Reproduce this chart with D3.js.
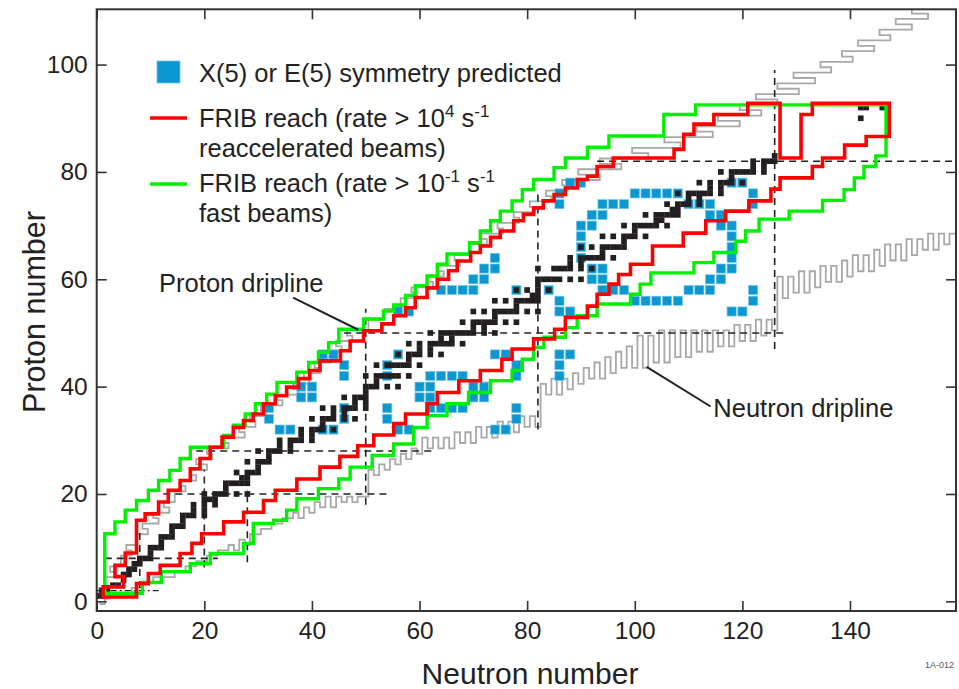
<!DOCTYPE html>
<html><head><meta charset="utf-8">
<script src="https://cdn.jsdelivr.net/npm/d3@7"></script>
<style>
body{margin:0;background:#fff;}
svg{display:block;font-family:"Liberation Sans",Arial,Helvetica,sans-serif;}
</style>
</head><body>
<svg id="chart" width="959" height="689"></svg>
<script>
// ---------------- DATA ----------------
const xTicks = [0,20,40,60,80,100,120,140];
const yTicks = [0,20,40,60,80,100];

// stable / primordial nuclides: [Z, [N...]]
const stableNuclei = [
[1,[0,1]],[2,[1,2]],[3,[3,4]],[4,[5]],[5,[5,6]],[6,[6,7]],[7,[7,8]],[8,[8,9,10]],[9,[10]],[10,[10,11,12]],
[11,[12]],[12,[12,13,14]],[13,[14]],[14,[14,15,16]],[15,[16]],[16,[16,17,18,20]],[17,[18,20]],[18,[18,20,22]],
[19,[20,21,22]],[20,[20,22,23,24,26,28]],[21,[24]],[22,[24,25,26,27,28]],[23,[27,28]],[24,[26,28,29,30]],
[25,[30]],[26,[28,30,31,32]],[27,[32]],[28,[30,32,33,34,36]],[29,[34,36]],[30,[34,36,37,38,40]],[31,[38,40]],
[32,[38,40,41,42,44]],[33,[42]],[34,[40,42,43,44,46,48]],[35,[44,46]],[36,[42,44,46,47,48,50]],[37,[48,50]],
[38,[46,48,49,50]],[39,[50]],[40,[50,51,52,54,56]],[41,[52]],[42,[50,52,53,54,55,56,58]],[44,[52,54,55,56,57,58,60]],
[45,[58]],[46,[56,58,59,60,62,64]],[47,[60,62]],[48,[58,60,62,63,64,65,66,68]],[49,[64,66]],
[50,[62,64,65,66,67,68,69,70,72,74]],[51,[70,72]],[52,[68,70,71,72,73,74,76,78]],[53,[74]],
[54,[70,72,74,75,76,77,78,80,82]],[55,[78]],[56,[74,76,78,79,80,81,82]],[57,[81,82]],[58,[78,80,82,84]],[59,[82]],
[60,[82,83,84,85,86,88,90]],[62,[82,85,86,87,88,90,92]],[63,[88,90]],[64,[88,90,91,92,93,94,96]],[65,[94]],
[66,[90,92,94,95,96,97,98]],[67,[98]],[68,[94,96,98,99,100,102]],[69,[100]],[70,[98,100,101,102,103,104,106]],
[71,[104,105]],[72,[102,104,105,106,107,108]],[73,[107,108]],[74,[106,108,109,110,112]],[75,[110,112]],
[76,[108,110,111,112,113,114,116]],[77,[114,116]],[78,[112,114,116,117,118,120]],[79,[118]],
[80,[116,118,119,120,121,122,124]],[81,[122,124]],[82,[122,124,125,126]],[83,[126]],[90,[142]],[92,[142,143,146]]
];

// X(5) / E(5) symmetry predicted: [Z, [N...]]
const x5e5Nuclei = [
[32,[34,36,42,44,56,58,74,76]],
[34,[32,46,54,78]],
[36,[32,46,54,62,64,66,68,78]],
[38,[38,40,60,62,70,72]],
[40,[38,40,60,62,70,72]],
[42,[46,54,62,64,66,68,78,86]],
[44,[46,54,78,86]],
[46,[42,44,56,74,76,86,88]],
[54,[56,58,86,88,118,120]],
[56,[86,100,102,104,106,108,122]],
[58,[64,66,68,70,78,84,94,96,98,110,112,114,122]],
[60,[70,72,92,94,114,116]],
[62,[72,74,92,94,116,118]],
[64,[74,90,118]],
[66,[90,118]],
[68,[90,118]],
[70,[90,92,116,118]],
[72,[92,94,114,116]],
[74,[86,94,96,98,110,112,114,122]],
[76,[86,100,102,104,106,108,122]],
[78,[88,90,118,120]]
];

// proton dripline: lightest bound N for each Z
const protonDripZ = [1,2,3,4,5,6,7,8,9,10,11,12,13,14,15,16,17,18,19,20,21,22,23,24,25,26,27,28,29,30,
31,32,33,34,35,36,37,38,39,40,41,42,43,44,45,46,47,48,49,50,51,52,53,54,55,56,57,58,59,60,
61,62,63,64,65,66,67,68,69,70,71,72,73,74,75,76,77,78,79,80,81,82,83,84,85,86,87,88,89,90,
91,92,93,94,95,96,97,98,99,100,101,102,103,104,105,106,107,108,109,110,111];
const protonDripN = [0,1,2,2,4,3,5,5,7,6,8,8,10,9,12,11,14,13,15,15,17,16,19,18,21,19,22,21,25,24,
28,27,30,29,32,31,35,34,38,37,40,39,42,41,44,43,46,45,48,47,51,51,54,54,57,57,60,59,63,62,
65,64,68,67,70,70,73,72,76,75,79,78,82,81,85,84,88,87,94,90,98,94,103,100,109,106,115,112,120,116,
124,120,127,123,131,127,134,130,137,135,141,139,145,142,148,146,152,149,155,152,158];

// neutron dripline: lowest bound Z for each N
const neutronDripN = d3.range(1,160);
const neutronDripZ = [0,1,2,2,2,2,3,3,4,4,5,5,5,5,6,6,7,7,8,8,9,9,10,10,11,10,12,11,13,13,
14,14,15,15,16,16,17,16,18,17,19,18,20,18,20,19,20,19,20,20,25,24,26,25,27,26,28,27,29,28,
31,29,31,29,31,29,32,30,32,30,33,31,33,31,34,32,34,32,35,33,35,33,41,39,42,39,42,40,43,41,
44,42,45,42,46,43,47,44,48,44,50,44,50,45,51,45,51,46,51,46,51,47,51,47,51,48,51,48,52,49,
52,49,53,50,53,51,61,57,61,58,62,58,62,59,63,60,63,60,64,61,65,62,65,62,66,63,67,64,67,64,
68,65,68,66,69,66,69,67,69];

// FRIB reach, reaccelerated beams (rate > 1e4 /s): outline [N, Z]
const redReach = [
[1.2,0.8],[1.2,2.7],[5,2.7],[5,4.6],[3.4,4.6],[3.4,6.7],[5.3,6.7],[5.3,9],[7.4,9],[7.4,15.1],[9,15.1],[9,16.3],
[11.5,16.3],[11.5,18.5],[13.3,18.5],[13.3,20.7],[15.5,20.7],[15.5,22.5],[17.4,22.5],[17.4,24.7],[19.2,24.7],
[19.2,26.6],[21.1,26.6],[21.1,28.7],[23.3,28.7],[23.3,30.6],[25.4,30.6],[25.4,32.4],[27.3,32.4],[27.3,33.7],
[29.1,33.7],[29.1,34.9],[31,34.9],[31,36.8],[33.2,36.8],[33.2,38.3],[35.3,38.3],[35.3,39.9],[37.5,39.9],
[37.5,41.5],[39.6,41.5],[39.6,43],[41.5,43],[41.5,44.8],[45.3,44.8],[45.3,46.7],[47.1,46.7],[47.1,48.5],
[49.6,48.5],[49.6,50.4],[53,50.4],[53,51.7],[55.2,51.7],[55.2,53.2],[57.4,53.2],[57.4,54.7],[59.2,54.7],
[59.2,56.6],[61.4,56.6],[61.4,58.4],[63.3,58.4],[63.3,60],[65.4,60],[65.4,61.6],[67,61.6],[67,63.4],
[69.5,63.4],[69.5,65],[71.3,65],[71.3,66.2],[73.2,66.2],[73.2,67.8],[75,67.8],[75,69],[77.5,69],[77.5,70.9],
[79.3,70.9],[79.3,72.1],[81.2,72.1],[81.2,73.3],[83,73.3],[83,74.6],[85,74.6],[85,75.8],[87.1,75.8],[87.1,77],
[89.3,77],[89.3,78.6],[91.2,78.6],[91.2,79.2],[93,79.2],[93,81],[96,81],[96,82.6],[107.3,82.6],[107.3,84.2],
[109.1,84.2],[109.1,87],[111,87],[111,88.9],[114.7,88.9],[114.7,90.7],[121,90.7],[121,92.8],[127,92.8],
[127,82.6],[130.9,82.6],[130.9,90.7],[133,90.7],[133,92.8],[147.3,92.8],[147.3,86.6],[143,86.6],[143,85],
[139,85],[139,82.6],[134.9,82.6],[134.9,81],[133,81],[133,78.9],[127,78.9],[127,76.8],[125.3,76.8],
[125.3,74.6],[121.2,74.6],[121.2,72.7],[116.9,72.7],[116.9,70.9],[113.2,70.9],[113.2,68.6],[109,68.6],
[109,66.2],[103.3,66.2],[103.3,62.8],[99.2,62.8],[99.2,60.9],[97,60.9],[97,59.1],[95.2,59.1],[95.2,57.2],
[93,57.2],[93,55],[91.2,55],[91.2,52.9],[87.1,52.9],[87.1,50.7],[85.1,50.7],[85.1,48.9],[81.2,48.9],[81.2,47],
[77.2,47],[77.2,45.1],[75.3,45.1],[75.3,43],[71.3,43],[71.3,41.1],[67.3,41.1],[67.3,38.9],[63.3,38.9],
[63.3,36.8],[61.4,36.8],[61.4,34.9],[57.4,34.9],[57.4,33.1],[55.2,33.1],[55.2,31],[51.5,31],[51.5,29],
[48.5,29],[48.5,27],[45.2,27],[45.2,25],[41.5,25],[41.5,22.8],[37.2,22.8],[37.2,20.7],[33.2,20.7],[33.2,18.8],
[31,18.8],[31,16.6],[27.3,16.6],[27.3,14.8],[23.6,14.8],[23.6,12.6],[19.5,12.6],[19.5,10.8],[17.7,10.8],
[17.7,8.9],[15.5,8.9],[15.5,6.7],[11.8,6.7],[11.8,5.2],[9.6,5.2],[9.6,3.3],[7.4,3.3],[7.4,0.8]
];

// FRIB reach, fast beams (rate > 1e-1 /s): outline [N, Z]
const greenReach = [
[1.5,1.5],[1.5,12.6],[3.4,12.6],[3.4,14.8],[5.3,14.8],[5.3,17],[7.4,17],[7.4,18.8],[9.6,18.8],[9.6,20.7],
[11.5,20.7],[11.5,22.5],[13.6,22.5],[13.6,24.4],[15.5,24.4],[15.5,26.6],[17.4,26.6],[17.4,28.7],[23.6,28.7],
[23.6,30.9],[25.4,30.9],[25.4,32.8],[27.6,32.8],[27.6,34.9],[29.5,34.9],[29.5,36.8],[31.6,36.8],[31.6,38.6],
[33.5,38.6],[33.5,40.8],[37.2,40.8],[37.2,42.7],[39.4,42.7],[39.4,44.5],[41.2,44.5],[41.2,46.4],[43.1,46.4],
[43.1,48.2],[45,48.2],[45,50.7],[49.6,50.7],[49.6,52.6],[53.3,52.6],[53.3,54.1],[55.2,54.1],[55.2,55.2],
[57.4,55.2],[57.4,57],[59.2,57],[59.2,58.8],[61.4,58.8],[61.4,60.6],[63.3,60.6],[63.3,62.8],[65.1,62.8],
[65.1,64.7],[69.3,64.7],[69.3,66.8],[71.3,66.8],[71.3,69],[73.2,69],[73.2,70.9],[75,70.9],[75,72.7],
[77.2,72.7],[77.2,74.6],[79.1,74.6],[79.1,76.7],[81.2,76.7],[81.2,78.6],[85,78.6],[85,80.8],[87.1,80.8],
[87.1,82.6],[91.2,82.6],[91.2,84.6],[95.2,84.6],[95.2,86.7],[105.4,86.7],[105.4,90.7],[111.3,90.7],
[111.3,92.5],[146.7,92.5],[146.7,83],[144.8,83],[144.8,81],[142.6,81],[142.6,78.9],[140.8,78.9],[140.8,76.7],
[138.9,76.7],[138.9,74.7],[134.9,74.7],[134.9,72.7],[128.7,72.7],[128.7,71.2],[123.1,71.2],[123.1,69],
[120.6,69],[120.6,67.1],[118.8,67.1],[118.8,65],[114.7,65],[114.7,63.1],[111,63.1],[111,61.2],[103,61.2],
[103,59.1],[101,59.1],[101,57.2],[99.2,57.2],[99.2,55.4],[93,55.4],[93,53.2],[89.3,53.2],[89.3,51],[87.1,51],
[87.1,49.2],[83.1,49.2],[83.1,47.3],[81.2,47.3],[81.2,45.1],[79.1,45.1],[79.1,43],[77.2,43],[77.2,41.1],
[73.2,41.1],[73.2,38.9],[69.1,38.9],[69.1,36.8],[65.1,36.8],[65.1,34.6],[61.4,34.6],[61.4,32.4],[58.9,32.4],
[58.9,29.3],[55.2,29.3],[55.2,27.2],[51.2,27.2],[51.2,25],[47.1,25],[47.1,22.8],[45,22.8],[45,21],[41.2,21],
[41.2,19.1],[37.2,19.1],[37.2,17],[35.3,17],[35.3,15.1],[32.9,15.1],[32.9,14.5],[29.1,14.5],[29.1,10.8],
[27.3,10.8],[27.3,8.9],[21.1,8.9],[21.1,7],[17.4,7],[17.4,5.5],[12,5.5],[12,3.5],[8.5,3.5],[8.5,1.5]
];

// magic numbers: [magic, from, to]
const magicZLines = [[8,1.5,22.5],[20,12.4,54],[28,18.5,62.5],[50,46,128],[82,93,160]];
const magicNLines = [[8,2.5,13],[20,6.3,24.5],[28,7.3,20.8],[50,18,54.5],[82,32,76],[126,47,99]];
const lightZLine = [[2,0,12]];

const legendItems = ["X(5) or E(5) symmetry predicted","FRIB reach (rate > 10","reaccelerated beams)","FRIB reach (rate > 10","fast beams)"];
const annotations = [
  {text:"Proton dripline", tx:11.6, tz:57.6, from:[36.5,56.6], to:[48.6,50.6]},
  {text:"Neutron dripline", tx:114.6, tz:34.4, from:[102.2,43.7], to:[114.1,36.3]}
];

// ---------------- DRAW ----------------
const W = 959, H = 689;
const L = 96.7, R = 956, T = 9.3, B = 611;
const svg = d3.select("#chart");
svg.append("rect").attr("width",W).attr("height",H).attr("fill","#fff");

const x = d3.scaleLinear().domain([0,159.7]).range([L,R]);
const y = d3.scaleLinear().domain([-1.8,110.3]).range([B,T]);

svg.append("defs").append("clipPath").attr("id","plotclip")
  .append("rect").attr("x",L).attr("y",T).attr("width",R-L).attr("height",B-T);

const plot = svg.append("g").attr("clip-path","url(#plotclip)");
const line = d3.line().x(d=>x(d[0])).y(d=>y(d[1]));

// driplines (gray)
const pdPts = [];
protonDripZ.forEach((z,i)=>{ const n = protonDripN[i]-0.5; pdPts.push([n,z-0.5],[n,z+0.5]); });
const ndPts = [];
neutronDripN.forEach((n,i)=>{ const z = neutronDripZ[i]-0.5; ndPts.push([n-0.5,z],[n+0.5,z]); });
[pdPts, ndPts].forEach(pts=>{
  plot.append("path").attr("d",line(pts)).attr("fill","none")
    .attr("stroke","#a8a8a8").attr("stroke-width",1.8).attr("stroke-linejoin","miter");
});

// magic number dashed lines
const dash = plot.append("g").attr("stroke","#222").attr("stroke-width",1.6).attr("stroke-dasharray","7,5").attr("fill","none");
magicZLines.forEach(([m,a,b])=>dash.append("line").attr("x1",x(a)).attr("x2",x(b)).attr("y1",y(m)).attr("y2",y(m)));
magicNLines.forEach(([m,a,b])=>dash.append("line").attr("x1",x(m)).attr("x2",x(m)).attr("y1",y(a)).attr("y2",y(b)));
lightZLine.forEach(([m,a,b])=>plot.append("line").attr("x1",x(a)).attr("x2",x(b)).attr("y1",y(m)).attr("y2",y(m))
  .attr("stroke","#222").attr("stroke-width",1.4).attr("stroke-dasharray","6,3,2,3"));

// blue X(5)/E(5) squares
const cw = x(1)-x(0), ch = y(0)-y(1);
const blueG = plot.append("g");
x5e5Nuclei.forEach(([z,ns])=>ns.forEach(n=>{
  blueG.append("rect").attr("x",x(n-0.85)).attr("y",y(z+0.85)).attr("width",cw*1.7).attr("height",ch*1.7)
    .attr("fill","#0b97cf").attr("stroke","#7cc6e8").attr("stroke-width",0.7);
}));

// stable nuclei
const blackG = plot.append("g");
stableNuclei.forEach(([z,ns])=>ns.forEach(n=>{
  blackG.append("rect").attr("x",x(n-0.5)-0.15).attr("y",y(z+0.5)-0.15).attr("width",cw+0.3).attr("height",ch+0.3)
    .attr("fill","#231f20");
}));

// FRIB reach outlines
plot.append("path").attr("d",line(greenReach)+"Z").attr("fill","none").attr("stroke","#00f000")
  .attr("stroke-width",3.4).attr("stroke-linejoin","miter");
plot.append("path").attr("d",line(redReach)+"Z").attr("fill","none").attr("stroke","#ff0000")
  .attr("stroke-width",3.6).attr("stroke-linejoin","miter");

// axes
const tickStyle = g=>{ g.select(".domain").remove(); g.selectAll(".tick line").attr("stroke","#333").attr("stroke-width",1.6);
  g.selectAll(".tick text").attr("fill","#222").attr("font-size",24.5).attr("font-family","Liberation Sans, Arial, sans-serif"); };
svg.append("g").attr("transform",`translate(0,${B})`).call(d3.axisBottom(x).tickValues(xTicks).tickSize(-10).tickPadding(11)).call(tickStyle);
svg.append("g").attr("transform",`translate(0,${T})`).call(d3.axisTop(x).tickValues(xTicks).tickSize(-10).tickFormat("")).call(tickStyle);
svg.append("g").attr("transform",`translate(${L},0)`).call(d3.axisLeft(y).tickValues(yTicks).tickSize(-10).tickPadding(9)).call(tickStyle);
svg.append("g").attr("transform",`translate(${R},0)`).call(d3.axisRight(y).tickValues(yTicks).tickSize(-10).tickFormat("")).call(tickStyle);

// frame
svg.append("rect").attr("x",L).attr("y",T).attr("width",R-L).attr("height",B-T)
  .attr("fill","none").attr("stroke","#333").attr("stroke-width",2);

// axis titles
svg.append("text").attr("x",530).attr("y",684).attr("text-anchor","middle")
  .attr("font-size",30).attr("fill","#222").text("Neutron number");
svg.append("text").attr("transform",`translate(45,312) rotate(-90)`).attr("text-anchor","middle")
  .attr("font-size",30.5).attr("fill","#222").text("Proton number");

// annotations
annotations.forEach(a=>{
  svg.append("line").attr("x1",x(a.from[0])).attr("y1",y(a.from[1])).attr("x2",x(a.to[0])).attr("y2",y(a.to[1]))
    .attr("stroke","#222").attr("stroke-width",2);
  svg.append("text").attr("x",x(a.tx)).attr("y",y(a.tz)).attr("font-size",25.5).attr("fill","#222").text(a.text);
});

// legend
const lg = svg.append("g").attr("font-size",25.5).attr("fill","#222");
lg.append("rect").attr("x",157).attr("y",61).attr("width",23).attr("height",22).attr("fill","#0b97cf").attr("stroke","#7cc6e8").attr("stroke-width",0.8);
lg.append("text").attr("x",199).attr("y",82).text(legendItems[0]);
lg.append("line").attr("x1",150).attr("x2",187).attr("y1",118).attr("y2",118).attr("stroke","#ff0000").attr("stroke-width",3.6);
const t1 = lg.append("text").attr("x",199).attr("y",127);
t1.append("tspan").text(legendItems[1]);
t1.append("tspan").attr("dy",-10).attr("font-size",17).text("4");
t1.append("tspan").attr("dy",10).text(" s");
t1.append("tspan").attr("dy",-10).attr("font-size",17).text("-1");
lg.append("text").attr("x",199).attr("y",157).text(legendItems[2]);
lg.append("line").attr("x1",150).attr("x2",187).attr("y1",184).attr("y2",184).attr("stroke","#00f000").attr("stroke-width",3.6);
const t2 = lg.append("text").attr("x",199).attr("y",192);
t2.append("tspan").text(legendItems[3]);
t2.append("tspan").attr("dy",-10).attr("font-size",17).text("-1");
t2.append("tspan").attr("dy",10).text(" s");
t2.append("tspan").attr("dy",-10).attr("font-size",17).text("-1");
lg.append("text").attr("x",199).attr("y",222).text(legendItems[4]);

svg.append("text").attr("x",925).attr("y",668).attr("font-size",9).attr("fill","#555").text("1A-012");
</script>
</body></html>
